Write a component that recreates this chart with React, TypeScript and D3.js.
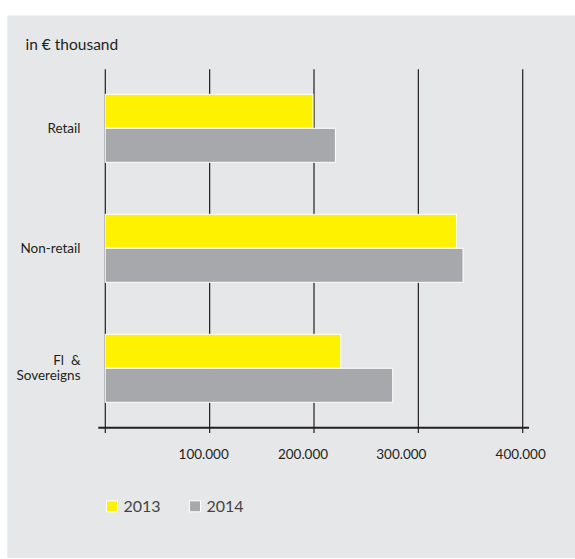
import React from "react";
import * as d3 from "d3";

const categories = ["Retail", "Non-retail", "Fl & Sovereigns"];
const categoryLines = [["Retail"], ["Non-retail"], ["Fl  &", "Sovereigns"]];
const seriesNames = ["2013", "2014"];
const values2013 = [199000, 336700, 225600];
const values2014 = [220500, 342800, 275400];
const tickValues = [0, 100000, 200000, 300000, 400000];
const tickLabels = ["", "100.000", "200.000", "300.000", "400.000"];
const seriesColors = ["#fff200", "#a7a8ab"];

const W = 575;
const H = 559;
const FONT = "Lato, 'Open Sans', sans-serif";
const labelShift = [0, -6, -11, -17, -2];

export default function App() {
  const x = d3.scaleLinear().domain([0, 400000]).range([105.3, 522.7]);
  const y = d3
    .scaleBand<string>()
    .domain(categories)
    .range([68.3, 428.3])
    .paddingInner(0.4333)
    .paddingOuter(0.2167);
  const inner = d3.scaleBand<string>().domain(seriesNames).range([0, y.bandwidth()]);
  const seriesValues = [values2013, values2014];
  const axisY = 427.7;

  return (
    <svg
      width={W}
      height={H}
      style={{ position: "absolute", left: 0, top: 0, display: "block" }}
    >
      <rect x={7.3} y={15.4} width={W - 7.3} height={542.6} fill="#e6e7e9" />
      <text x={25.5} y={49.5} fontFamily={FONT} fontSize={15.5} fill="#231f20">
        in € thousand
      </text>
      {tickValues.map((t, i) => (
        <line
          key={"g" + i}
          x1={x(t)}
          x2={x(t)}
          y1={69.3}
          y2={433}
          stroke="#231f20"
          strokeWidth={1.2}
        />
      ))}
      <line x1={98.3} x2={529} y1={axisY} y2={axisY} stroke="#231f20" strokeWidth={2} />
      {categories.map((c, ci) =>
        seriesNames.map((s, si) => {
          const v = seriesValues[si][ci];
          return (
            <rect
              key={c + s}
              x={x(0)}
              y={(y(c) as number) + (inner(s) as number)}
              width={x(v) - x(0)}
              height={inner.bandwidth()}
              fill={seriesColors[si]}
              stroke="#ffffff"
              strokeWidth={1}
            />
          );
        })
      )}
      {categories.map((c, ci) => {
        const lines = categoryLines[ci];
        const mid = (y(c) as number) + y.bandwidth() / 2;
        const lh = 15;
        const first = mid + 4.5 - ((lines.length - 1) * lh) / 2;
        return (
          <text
            key={"l" + c}
            textAnchor="end"
            fontFamily={FONT}
            fontSize={13.5}
            fill="#231f20"
            style={{ whiteSpace: "pre" }}
          >
            {lines.map((ln, li) => (
              <tspan key={li} x={80.5} y={first + li * lh}>
                {ln}
              </tspan>
            ))}
          </text>
        );
      })}
      {tickValues.map((t, i) => (
        <text
          key={"t" + i}
          x={x(t) + labelShift[i]}
          y={458.7}
          textAnchor="middle"
          fontFamily={FONT}
          fontSize={13.5}
          fill="#231f20"
        >
          {tickLabels[i]}
        </text>
      ))}
      {seriesNames.map((s, si) => {
        const lx = 106.5 + si * 83;
        return (
          <g key={"lg" + s}>
            <rect
              x={lx}
              y={500.8}
              width={11}
              height={11}
              fill={seriesColors[si]}
              stroke="#ffffff"
              strokeWidth={1}
            />
            <text x={lx + 17} y={512.3} fontFamily={FONT} fontSize={16} fill="#444">
              {s}
            </text>
          </g>
        );
      })}
    </svg>
  );
}
